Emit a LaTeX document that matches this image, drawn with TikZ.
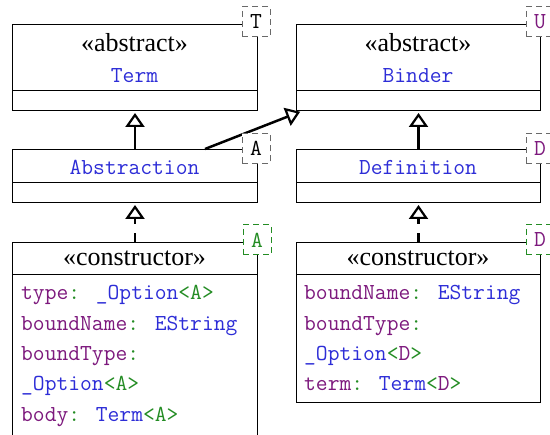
\documentclass[tikz,border=0pt]{standalone}
\usepackage{fontspec}
\setmainfont{Liberation Serif}
\usetikzlibrary{arrows.meta}

\definecolor{umlblue}{RGB}{45,45,215}
\definecolor{umlpurple}{RGB}{125,25,125}
\definecolor{umlgreen}{RGB}{35,140,35}
\definecolor{tpgray}{RGB}{105,105,105}

% attribute name followed by a green colon
\newcommand{\attr}[1]{\textcolor{umlpurple}{#1}\textcolor{umlgreen}{:}}
% type name
\newcommand{\typ}[1]{\textcolor{umlblue}{#1}}
% type argument in green angle brackets
\newcommand{\targ}[1]{\textcolor{umlgreen}{<}#1\textcolor{umlgreen}{>}}
% monospaced text size
\newcommand{\monosize}{\ttfamily\fontsize{22.9}{26}\selectfont}

\begin{document}
\begin{tikzpicture}[x=1pt,y=-1pt,
  cls/.style={draw=black, line width=1pt, fill=white, anchor=north west,
    inner sep=0pt, minimum width=245pt},
  stereo/.style={anchor=base, inner sep=0pt, font=\fontsize{26}{30}\selectfont},
  cname/.style={anchor=base, inner sep=0pt, text=umlblue, font=\monosize},
  attrline/.style={anchor=base west, inner sep=0pt, font=\monosize},
  tparam/.style={draw=tpgray, line width=1pt, dash pattern=on 6pt off 4pt,
    fill=white, minimum width=28pt, minimum height=30pt, inner sep=0pt,
    font=\monosize},
  tpcons/.style={tparam, draw=umlgreen},
  shaft/.style={line width=2.5pt},
  gen/.style={shaft, shorten >=2pt,
    -{Triangle[open, width=19pt, length=14pt, line width=2.2pt]}},
  dashshaft/.style={shaft, dash pattern=on 9pt off 9pt},
  sep/.style={line width=1pt}]

\useasboundingbox (0,0) rectangle (550,435);

% class boxes
\node[cls, minimum height=86pt] (term) at (12,24) {};
\node[cls, minimum height=86pt, minimum width=244pt] (binder) at (296,24) {};
\node[cls, minimum height=53pt] (abstr) at (12,149) {};
\node[cls, minimum height=53pt, minimum width=244pt] (defn) at (296,149) {};
\node[cls, minimum height=200pt] (consA) at (12,242) {};
\node[cls, minimum height=160pt, minimum width=244pt] (consD) at (296,242) {};

% compartment separators
\draw[sep] ([yshift=-67pt]term.north west) -- ([yshift=-67pt]term.north east);
\draw[sep] ([yshift=-67pt]binder.north west) -- ([yshift=-67pt]binder.north east);
\draw[sep] ([yshift=-34pt]abstr.north west) -- ([yshift=-34pt]abstr.north east);
\draw[sep] ([yshift=-34pt]defn.north west) -- ([yshift=-34pt]defn.north east);
\draw[sep] ([yshift=-33pt]consA.north west) -- ([yshift=-33pt]consA.north east);
\draw[sep] ([yshift=-33pt]consD.north west) -- ([yshift=-33pt]consD.north east);

% headers
\node[stereo] (termst) at (134.5,52) {«abstract»};
\node[cname] (termnm) at (134.5,83) {Term};
\node[stereo] (binderst) at (418,52) {«abstract»};
\node[cname] (bindernm) at (418,83) {Binder};
\node[cname] (abstrnm) at (134.5,175) {Abstraction};
\node[cname] (defnnm) at (418,175) {Definition};
\node[stereo] (consAst) at (134.5,266) {«constructor»};
\node[stereo] (consDst) at (418,266) {«constructor»};

% attributes of the Abstraction constructor
\node[attrline] (a1) at (21,300) {\attr{type} \typ{\_Option}\targ{\textcolor{umlgreen}{A}}};
\node[attrline] (a2) at (21,331) {\attr{boundName} \typ{EString}};
\node[attrline] (a3) at (21,361) {\attr{boundType}};
\node[attrline] (a4) at (21,391) {\typ{\_Option}\targ{\textcolor{umlgreen}{A}}};
\node[attrline] (a5) at (21,422) {\attr{body} \typ{Term}\targ{\textcolor{umlgreen}{A}}};

% attributes of the Definition constructor
\node[attrline] (d1) at (304,300) {\attr{boundName} \typ{EString}};
\node[attrline] (d2) at (304,331) {\attr{boundType}};
\node[attrline] (d3) at (304,361) {\typ{\_Option}\targ{\textcolor{umlpurple}{D}}};
\node[attrline] (d4) at (304,391) {\attr{term} \typ{Term}\targ{\textcolor{umlpurple}{D}}};

% generalisation arrows
\draw[gen] (abstr.north) -- (term.south);
\draw[gen] (defn.north) -- (binder.south);
\draw[gen] ([xshift=193pt]abstr.north west) -- ([xshift=6pt]binder.south west);

% realisation arrows: dashed shaft, solid head
\coordinate (hA) at ([yshift=-15pt]abstr.south);
\coordinate (hD) at ([yshift=-15pt]defn.south);
\draw[dashshaft] (consA.north) -- (hA);
\draw[gen] (hA) -- (abstr.south);
\draw[dashshaft] (consD.north) -- (hD);
\draw[gen] (hD) -- (defn.south);

% template parameters
\node[tparam] (tpT) at (256,22) {T};
\node[tparam, text=umlpurple] (tpU) at (540,22) {U};
\node[tparam] (tpA) at (256,148.5) {A};
\node[tparam, text=umlpurple] (tpD) at (540,148.5) {D};
\node[tpcons, text=umlgreen] (tpAc) at (257,240) {A};
\node[tpcons, text=umlpurple] (tpDc) at (540,240) {D};
\end{tikzpicture}
\end{document}
